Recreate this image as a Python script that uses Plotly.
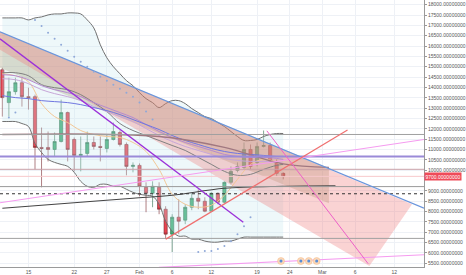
import plotly.graph_objects as go
import pandas as pd

# ---------------- data ----------------
candle_dates = pd.date_range("2018-01-11", "2018-02-23", freq="D")
opens  = [14854,13265,13795,14228,13554,13554,11097,11097,11001,11386,12783,11482,10711,10808,11338,11145,11049,11482,11820,11241,10182,10230,9170,8881,9170,8110,6906,7725,7581,8207,8640,8496,8014,8881,8447,9411,9989,10134,11001,10374,11145,11193,10374,9844]
closes = [13506,13795,14228,13554,13506,11097,11049,11001,11386,12783,11001,10711,10760,11338,11145,11097,11482,11868,11241,10182,10230,9218,8881,9218,8110,6906,7725,7532,8207,8640,8496,8014,8881,8447,9411,9941,10182,11001,10182,11145,11193,10422,9844,9700]
highs  = [14950,14469,14469,14517,13987,13650,12060,11868,11820,13409,12831,11579,11627,11868,11627,11627,11723,12301,11916,11338,10374,10326,9411,9459,9411,8255,7870,8592,8351,8881,9074,8688,8929,8929,9459,10182,10374,11338,11241,11338,11916,11338,10519,9893]
lows   = [12590,12590,13650,13072,12928,10037,9170,10422,10663,11338,10422,9941,9941,10663,11001,10422,10856,11434,11145,9748,9893,8737,7966,8207,7870,6665,6039,6906,7388,8062,8110,7966,8014,8351,8399,9315,9893,10037,10037,10182,11097,10374,9700,9555]

bb_upper = [17360,17360,17360,17360,17263,17360,17408,17504,17552,17552,17600,17600,17552,17263,16878,16060,15432,14999,14662,14324,14084,13747,13457,13265,13024,13216,13361,13361,13216,12976,12783,12590,12494,12301,12109,11868,11627,11434,11434,11482,11627,11723,11771,11771]
bb_lower = [12350,12350,12350,12253,12109,11290,10855,10519,10374,10278,10182,9893,9459,9218,9170,9314,9314,9218,9218,9074,8929,8833,8785,8737,8352,7533,7051,6810,6810,6665,6665,6569,6520,6520,6569,6569,6665,6762,6762,6762,6762,6762,6762,6762]

ma_dates = ["2018-01-11","2018-01-13","2018-01-15","2018-01-17","2018-01-19","2018-01-21","2018-01-23",
            "2018-01-25","2018-01-27","2018-01-29","2018-01-31","2018-02-02","2018-02-04","2018-02-06",
            "2018-02-08","2018-02-10","2018-02-12","2018-02-14","2018-02-16","2018-02-18","2018-02-20",
            "2018-02-22","2018-02-23"]
ma_orange = [14662,14565,14276,13216,12590,12301,11916,11723,11627,11579,11338,10904,10037,8833,8351,8207,8303,8785,9555,10278,10519,10374,10134]
ma_gray   = [14710,14710,14565,14132,13987,13891,13650,13265,12831,12253,11916,11675,11434,11193,10952,10615,10278,9941,9748,9796,10037,10230,10278]
ma_purple = [14614,14565,14373,14084,13891,13747,13554,13265,13024,12783,12542,12205,11868,11579,11338,11145,10952,10760,10663,10615,10615,10567,10519]
ma_lilac  = [14420,14373,14180,13891,13700,13554,13361,13072,12831,12590,12350,12012,11675,11386,11145,10952,10760,10567,10470,10422,10422,10374,10326]
ma_blue   = [13602,13506,13457,13361,13313,13265,13168,13024,12879,12687,12446,12205,11964,11675,11434,11241,11049,10904,10808,10760,10711,10663,10663]

ma100_dates = ["2018-01-11","2018-02-04","2018-02-14","2018-02-23","2018-03-02"]
ma100_vals  = [11723,11627,11100,10300,10134]
ma200_dates = ["2018-01-11","2018-01-21","2018-01-31","2018-02-06","2018-02-14","2018-02-23","2018-03-03"]
ma200_vals  = [8159,8399,8640,8785,9122,9218,9242]

sar_dates = ["2018-01-12","2018-01-13"] + [d.strftime("%Y-%m-%d") for d in pd.date_range("2018-01-16","2018-02-03")] + \
            [d.strftime("%Y-%m-%d") for d in pd.date_range("2018-02-10","2018-02-18")]
sar_vals  = [12542,12783,
             17263,16974,16637,16348,16059,15770,15480,15240,14999,14758,14517,14324,14132,13939,13747,13554,13265,12831,12446,
             6039,6087,6087,6183,6328,6568,6906,7292,7725]

# drawn trend lines (date, price)
blue_line_x = ["2018-01-10 15:22", "2018-03-16 13:26"]
blue_line_y = [16685, 8159]
purple_line_x = ["2018-01-10 15:22", "2018-02-16 21:22"]
purple_line_y = [16348, 7484]
pink_up_x = ["2018-01-10 15:22", "2018-03-16 13:26"]
pink_up_y = [8424, 11482]
pink_low_x = ["2018-02-03 23:17", "2018-03-16 13:26"]
pink_low_y = [5302, 5909]
red_line_x = ["2018-02-05 00:43", "2018-03-04 20:24"]
red_line_y = [6665, 11940]
magenta_x = ["2018-02-20 12:00", "2018-03-08 00:00"]
magenta_y = [11900, 5480]
poly_x = ["2018-01-10 15:22", "2018-03-14 17:31", "2018-03-08 04:48", "2018-01-10 15:22"]
poly_y = [16685, 8351, 5365, 15818]
chan_x = ["2018-01-10 15:22", "2018-03-02 00:00", "2018-03-02 00:00", "2018-01-10 15:22"]
chan_y = [16685, 10100, 8400, 14951]

hlines = [(11724, "#a0a0a0", 1, "solid"), (10665, "#9a8ad8", 2, "solid"), (10040, "#c9a0a8", 1, "solid"),
          (9204, "#9a9a9a", 1, "solid"), (8858, "#333333", 1, "dot"), (6700, "#a0a0a0", 1, "solid")]
last_price = 9700

event_x = ["2018-02-22 16:00", "2018-02-25 17:00", "2018-02-26 22:00", "2018-02-28 03:00"]
event_y = [5606, 5606, 5606, 5606]

tick_dates = ["2018-01-15","2018-01-22","2018-01-27","2018-02-01","2018-02-06","2018-02-12",
              "2018-02-19","2018-02-24","2018-03-01","2018-03-06","2018-03-12"]
tick_text = ["15","22","27","Feb","6","12","19","24","Mar","6","12"]
y_ticks = [v for v in range(5500, 18001, 500) if v != 9500]

# ---------------- figure ----------------
fig = go.Figure()
xr = ["2018-01-10 15:22", "2018-03-16 13:26"]

fig.add_trace(go.Scatter(x=candle_dates, y=bb_upper, mode="lines", line=dict(color="#707070", width=1, shape="spline"), hoverinfo="skip"))
fig.add_trace(go.Scatter(x=candle_dates, y=bb_lower, mode="lines", line=dict(color="#707070", width=1, shape="spline"),
                         fill="tonexty", fillcolor="rgba(200,232,240,0.3)", hoverinfo="skip"))

fig.add_trace(go.Scatter(x=chan_x, y=chan_y, mode="lines", line=dict(width=0), fill="toself",
                         fillcolor="rgba(150,140,95,0.28)", hoverinfo="skip"))
fig.add_trace(go.Scatter(x=poly_x, y=poly_y, mode="lines", line=dict(width=0), fill="toself",
                         fillcolor="rgba(240,120,120,0.33)", hoverinfo="skip"))

for xv, yv, col, w in [(ma_dates, ma_orange, "#f3c795", 1), (ma_dates, ma_gray, "#808080", 1),
                       (ma_dates, ma_purple, "#b48ad0", 1), (ma_dates, ma_lilac, "#c7a6d8", 1),
                       (ma_dates, ma_blue, "#6f76e0", 1), (ma100_dates, ma100_vals, "#a07880", 1.3),
                       (ma200_dates, ma200_vals, "#444444", 1.1)]:
    fig.add_trace(go.Scatter(x=xv, y=yv, mode="lines", line=dict(color=col, width=w, shape="spline"), hoverinfo="skip"))

for y, col, w, dash in hlines:
    fig.add_trace(go.Scatter(x=xr, y=[y, y], mode="lines", line=dict(color=col, width=w, dash=dash), hoverinfo="skip"))
fig.add_trace(go.Scatter(x=xr, y=[last_price, last_price], mode="lines", line=dict(color="#f7c9cc", width=1), hoverinfo="skip"))

for xv, yv, col, w in [(blue_line_x, blue_line_y, "#6a95dc", 1.2), (purple_line_x, purple_line_y, "#9b30d9", 1.3),
                       (pink_up_x, pink_up_y, "#f59cf0", 1.2), (pink_low_x, pink_low_y, "#f59cf0", 1.2),
                       (red_line_x, red_line_y, "#f07070", 1.2), (magenta_x, magenta_y, "#ee60c8", 1)]:
    fig.add_trace(go.Scatter(x=xv, y=yv, mode="lines", line=dict(color=col, width=w), hoverinfo="skip"))

fig.add_trace(go.Scatter(x=sar_dates, y=sar_vals, mode="markers", marker=dict(color="#8fa8d8", size=2), hoverinfo="skip"))

fig.add_trace(go.Candlestick(x=candle_dates, open=opens, high=highs, low=lows, close=closes,
                             increasing=dict(fillcolor="#3fae74", line=dict(color="#2d6d4a", width=0.6)),
                             decreasing=dict(fillcolor="#ea4350", line=dict(color="#7a2a2f", width=0.6)),
                             whiskerwidth=0, hoverinfo="skip"))

fig.add_trace(go.Scatter(x=event_x, y=event_y, mode="markers",
                         marker=dict(color="#fbd8b8", size=7, line=dict(color="#f2b98a", width=0.5)), hoverinfo="skip"))
fig.add_trace(go.Scatter(x=event_x, y=event_y, mode="markers",
                         marker=dict(color="#5a8fd8", size=3), hoverinfo="skip"))

fig.update_layout(
    width=466, height=275, margin=dict(l=0, r=39, t=0, b=7),
    paper_bgcolor="white", plot_bgcolor="white", showlegend=False,
    font=dict(family="Liberation Sans, Arial", size=5, color="#555555"),
    xaxis=dict(type="date", range=xr, rangeslider=dict(visible=False), tickvals=tick_dates, ticktext=tick_text,
               showgrid=True, gridcolor="#eef1f6", gridwidth=1, showline=True, linecolor="#9a9a9a",
               ticks="", tickfont=dict(size=5, color="#555555"), zeroline=False),
    yaxis=dict(side="right", range=[5317, 18226], tickvals=y_ticks, tickformat=".8f",
               showgrid=True, gridcolor="#eef1f6", showline=True, linecolor="#9a9a9a",
               ticks="outside", ticklen=2, tickcolor="#9a9a9a", tickfont=dict(size=5, color="#555555"), zeroline=False),
)
fig.add_annotation(x=1, xref="paper", y=last_price, yref="y", xanchor="left", text="9700.00000000",
                   showarrow=False, bgcolor="#ef4b59", font=dict(color="white", size=5), borderpad=0.5)

fig.write_html("out.html")
